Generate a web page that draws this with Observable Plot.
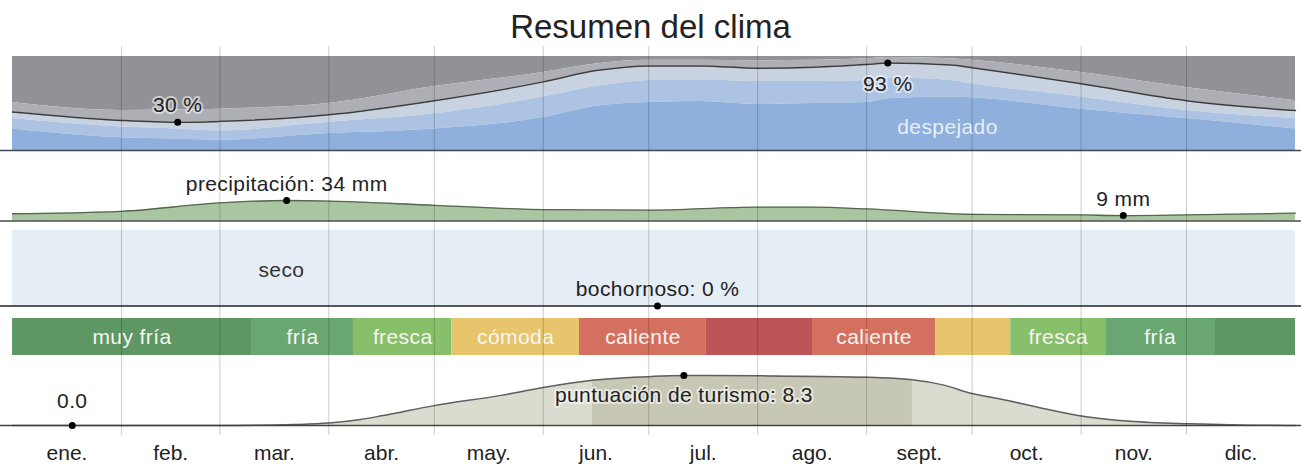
<!DOCTYPE html>
<html>
<head>
<meta charset="utf-8">
<script src="https://cdn.jsdelivr.net/npm/d3@7"></script>
<script src="https://cdn.jsdelivr.net/npm/@observablehq/plot@0.6"></script>
<style>
  html, body { margin: 0; padding: 0; background: #fff; }
  #wrap { position: relative; width: 1301px; height: 464px; overflow: hidden; font-family: "Liberation Sans", Arial, sans-serif; }
  #title { position: absolute; left: 0; top: 10px; width: 1301px; text-align: center; font-size: 33px; line-height: 33px; color: #222; }
  #chart { position: absolute; left: 0; top: 44px; }
  #chart svg { display: block; }
  #chart g[aria-label="text"] { letter-spacing: 0.4px; }
</style>
</head>
<body>
<div id="wrap">
  <div id="title">Resumen del clima</div>
  <div id="chart"></div>
</div>
<script>
// ---------- data ----------
const monthStarts = [31, 59, 90, 120, 151, 181, 212, 243, 273, 304, 334];
const monthMids = [15.5, 45, 74.5, 105, 135.5, 166, 196.5, 227.5, 258, 288.5, 319, 349.5];
const monthNames = ["ene.", "feb.", "mar.", "abr.", "may.", "jun.", "jul.", "ago.", "sept.", "oct.", "nov.", "dic."];

// cloud cover: cumulative percentages (bottom → top)
const cloudDays        = [0,  31,  47, 59, 90, 120, 151, 166, 181, 196, 212, 228, 243,  249, 267,  273, 304, 334, 365];
const clearPct         = [23, 13.5, 12, 11, 18, 23,  35,  47,  51,  52,  49,  50,  51,   55,  57,   56,  44,  34,  23];
const mostlyClearPct   = [34, 25,  23, 21, 30, 39,  57,  68,  74.5, 75, 73.5, 73.5, 74.5, 77,  74.5, 71,  57,  42.5, 34];
const partlyCloudyPct  = [41, 32,  30, 31, 38, 53,  73,  85,  90,  90,  87.5, 88.5, 91.5, 93,  91,   88,  71,  53,  42.5];
const mostlyCloudyPct  = [51, 42.5, 43, 44, 50, 68, 83,  92,  96,  96,  95.5, 96,  97.5, 99,  97.5, 96,  83,  67,  53];
const cloudNoteDays = [47, 249];
const cloudNoteValues = [30, 93];

// precipitation (mm)
const precipDays = [0, 31, 59, 78, 90, 120, 151, 181, 212, 228, 243, 273, 304, 316, 334, 365];
const precipMm   = [12, 16, 30, 34, 33, 26, 19, 18, 23, 23, 20, 11, 10, 9, 10, 13];
const precipNoteDays = [78, 316];
const precipNoteValues = [34, 9];

// humidity (% muggy)
const muggyDays = [0, 91, 183, 274, 365];
const muggyPct  = [0, 0, 0, 0, 0];
const muggyNoteDay = 183.5;

// temperature bands
const tempStarts = [0, 68, 97, 125, 161.3, 197.4, 227.6, 262.6, 284, 311, 342];
const tempEnds   = [68, 97, 125, 161.3, 197.4, 227.6, 262.6, 284, 311, 342, 365];
const tempCats   = ["muy fría", "fría", "fresca", "cómoda", "caliente", "muy caliente", "caliente", "cómoda", "fresca", "fría", "muy fría"];
const tempLabels = ["muy fría", "fría", "fresca", "cómoda", "caliente", "", "caliente", "", "fresca", "fría", ""];
const tempColorNames = ["muy fría", "fría", "fresca", "cómoda", "caliente", "muy caliente"];
const tempColors     = ["#5e9763", "#6aa672", "#88bf6b", "#e6c56c", "#d4705f", "#bd5457"];

// tourism score
const tourDays  = [0, 59, 70, 80, 90, 99, 105, 120, 139, 151, 165, 182, 191, 212, 243, 256, 265, 273, 281, 292, 305, 318, 335, 352, 365];
const tourScore = [0, 0, 0.03, 0.15, 0.4, 1.0, 1.6, 3.3, 5.0, 6.3, 7.5, 8.15, 8.3, 8.25, 8.0, 7.6, 6.7, 5.3, 4.4, 3.0, 1.5, 0.7, 0.28, 0.05, 0];
const bestStart = 165, bestEnd = 256;
const tourNoteDays = [17, 191];
const tourNoteValues = [0, 8.3];

// ---------- tables ----------
const cloud = cloudDays.map((d, i) => ({day: d, clear: clearPct[i], mclear: mostlyClearPct[i], pcloudy: partlyCloudyPct[i], mcloudy: mostlyCloudyPct[i]}));
const precip = precipDays.map((d, i) => ({day: d, mm: precipMm[i]}));
const muggy = muggyDays.map((d, i) => ({day: d, pct: muggyPct[i]}));
const temps = tempStarts.map((s, i) => ({x1: s, x2: tempEnds[i], cat: tempCats[i], label: tempLabels[i]}));
const tour = tourDays.map((d, i) => ({day: d, score: tourScore[i]}));
const tempColor = c => tempColors[tempColorNames.indexOf(c)];

// ---------- common ----------
const FONT = "'Liberation Sans', Arial, sans-serif";
const FS = 21;
const X = {domain: [0, 365], range: [12, 1295]};
const grid = () => Plot.ruleX(monthStarts, {stroke: "#000", strokeOpacity: 0.2, strokeWidth: 1});
const style = {fontFamily: FONT, fontSize: "20px", color: "#222", background: "transparent", overflow: "visible"};
const curve = "monotone-x";
const chart = document.getElementById("chart");

// ---------- panel A: cloud ----------
chart.append(Plot.plot({
  width: 1301, height: 108, marginLeft: 0, marginRight: 0, marginTop: 2, marginBottom: 0,
  x: {...X, axis: null},
  y: {domain: [0, 100], range: [106, 12], axis: null},
  style,
  marks: [
    Plot.areaY(cloud, {x: "day", y1: "mcloudy", y2: () => 100, fill: "#909297", curve}),
    Plot.areaY(cloud, {x: "day", y1: "pcloudy", y2: "mcloudy", fill: "#adafb4", curve}),
    Plot.areaY(cloud, {x: "day", y1: "mclear", y2: "pcloudy", fill: "#c9d2e0", curve}),
    Plot.areaY(cloud, {x: "day", y1: "clear", y2: "mclear", fill: "#adc3e3", curve}),
    Plot.areaY(cloud, {x: "day", y1: () => 0, y2: "clear", fill: "#8fb0dc", curve}),
    Plot.lineY(cloud, {x: "day", y: "pcloudy", stroke: "#3c3c3c", strokeWidth: 1.5, curve}),
    Plot.ruleY([0], {stroke: "#3e4752", strokeWidth: 1.5}),
    Plot.text(["despejado"], {x: () => 266, y: () => 18, text: d => d, fill: "#e6eef9", fontSize: FS, lineAnchor: "bottom"}),
    Plot.dot([0, 1], {x: i => cloudNoteDays[i], y: i => cloudNoteValues[i], r: 3.5, fill: "#000"}),
    Plot.text([0], {x: i => cloudNoteDays[i], y: i => cloudNoteValues[i], text: i => `${cloudNoteValues[i]} %`, fill: "#222", stroke: "#fff", strokeOpacity: 0.55, strokeWidth: 4, fontSize: FS, lineAnchor: "bottom", dy: -10}),
    Plot.text([1], {x: i => cloudNoteDays[i], y: i => cloudNoteValues[i], text: i => `${cloudNoteValues[i]} %`, fill: "#222", stroke: "#fff", strokeOpacity: 0.55, strokeWidth: 4, fontSize: FS, lineAnchor: "bottom", dy: 28}),
    grid()
  ]
}));

// ---------- panel B: precipitation ----------
chart.append(Plot.plot({
  width: 1301, height: 72, marginLeft: 0, marginRight: 0, marginTop: 0, marginBottom: 0,
  x: {...X, axis: null},
  y: {domain: [0, 34], range: [68.5, 48], axis: null},
  style,
  marks: [
    Plot.areaY(precip, {x: "day", y: "mm", fill: "#a9c6a0", curve}),
    Plot.lineY(precip, {x: "day", y: "mm", stroke: "#56664f", strokeWidth: 1.3, curve}),
    Plot.ruleY([0], {stroke: "#4a4a4a", strokeWidth: 1.5}),
    Plot.dot([0, 1], {x: i => precipNoteDays[i], y: i => precipNoteValues[i], r: 3.5, fill: "#000"}),
    Plot.text([0], {x: i => precipNoteDays[i], y: i => precipNoteValues[i], text: i => `precipitación: ${precipNoteValues[i]} mm`, fill: "#222", fontSize: FS, lineAnchor: "bottom", dy: -10}),
    Plot.text([1], {x: i => precipNoteDays[i], y: i => precipNoteValues[i], text: i => `${precipNoteValues[i]} mm`, fill: "#222", fontSize: FS, lineAnchor: "bottom", dy: -10}),
    grid()
  ]
}));

// ---------- panel C: humidity ----------
chart.append(Plot.plot({
  width: 1301, height: 88, marginLeft: 0, marginRight: 0, marginTop: 0, marginBottom: 0,
  x: {...X, axis: null},
  y: {domain: [0, 100], range: [81.5, 6], axis: null},
  style,
  marks: [
    Plot.areaY(muggy, {x: "day", y1: "pct", y2: () => 100, fill: "#e4eef4"}),
    Plot.areaY(muggy, {x: "day", y: "pct", fill: "#9fb9c9"}),
    Plot.text(["seco"], {x: () => 76.5, y: () => 47, text: d => d, fill: "#333", fontSize: FS}),
    Plot.ruleY([0], {stroke: "#222", strokeWidth: 1.5}),
    Plot.dot([0], {x: () => muggyNoteDay, y: () => muggyPct[2], r: 3.5, fill: "#000"}),
    Plot.text([0], {x: () => muggyNoteDay, y: () => muggyPct[2], text: () => `bochornoso: ${muggyPct[2]} %`, fill: "#222", fontSize: FS, lineAnchor: "bottom", dy: -10}),
    grid()
  ]
}));

// ---------- panel D: temperature ----------
chart.append(Plot.plot({
  width: 1301, height: 48, marginLeft: 0, marginRight: 0, marginTop: 0, marginBottom: 0,
  x: {...X, axis: null},
  y: {domain: [0, 1], range: [43, 6], axis: null},
  style,
  marks: [
    Plot.rect(temps, {x1: "x1", x2: "x2", y1: () => 0, y2: () => 1, fill: d => tempColor(d.cat)}),
    Plot.text(temps.filter(d => d.label), {x: d => (d.x1 + d.x2) / 2, y: () => 0.5, text: "label", fill: "#f6f6f2", fontSize: FS}),
    grid()
  ]
}));

// ---------- panel E: tourism + months ----------
chart.append(Plot.plot({
  width: 1301, height: 104, marginLeft: 0, marginRight: 0, marginTop: 0, marginBottom: 29,
  x: X,
  y: {domain: [0, 8.3], range: [65, 15], axis: null},
  style,
  marks: [
    Plot.areaY(tour, {x: "day", y: "score", fill: "#dbdcd0", curve}),
    Plot.areaY(tour, {filter: d => d.day >= bestStart && d.day <= bestEnd, x: "day", y: "score", fill: "#c6c7b4", curve}),
    Plot.lineY(tour, {x: "day", y: "score", stroke: "#5f5f5f", strokeWidth: 1.5, curve}),
    Plot.ruleY([0], {stroke: "#444", strokeWidth: 1.5}),
    Plot.dot([0, 1], {x: i => tourNoteDays[i], y: i => tourNoteValues[i], r: 3.5, fill: "#000"}),
    Plot.text([0], {x: i => tourNoteDays[i], y: i => tourNoteValues[i], text: i => tourNoteValues[i].toFixed(1), fill: "#222", fontSize: FS, lineAnchor: "bottom", dy: -18}),
    Plot.text([1], {x: i => tourNoteDays[i], y: i => tourNoteValues[i], text: i => `puntuación de turismo: ${tourNoteValues[i].toFixed(1)}`, fill: "#222", stroke: "#fff", strokeOpacity: 0.55, strokeWidth: 4, fontSize: FS, lineAnchor: "bottom", dy: 26}),
    grid(),
    Plot.axisX({ticks: monthMids, tickFormat: d => monthNames[monthMids.indexOf(d)], tickSize: 0, tickPadding: 10, fontSize: 21, fill: "#222", label: null})
  ]
}));
</script>
</body>
</html>
